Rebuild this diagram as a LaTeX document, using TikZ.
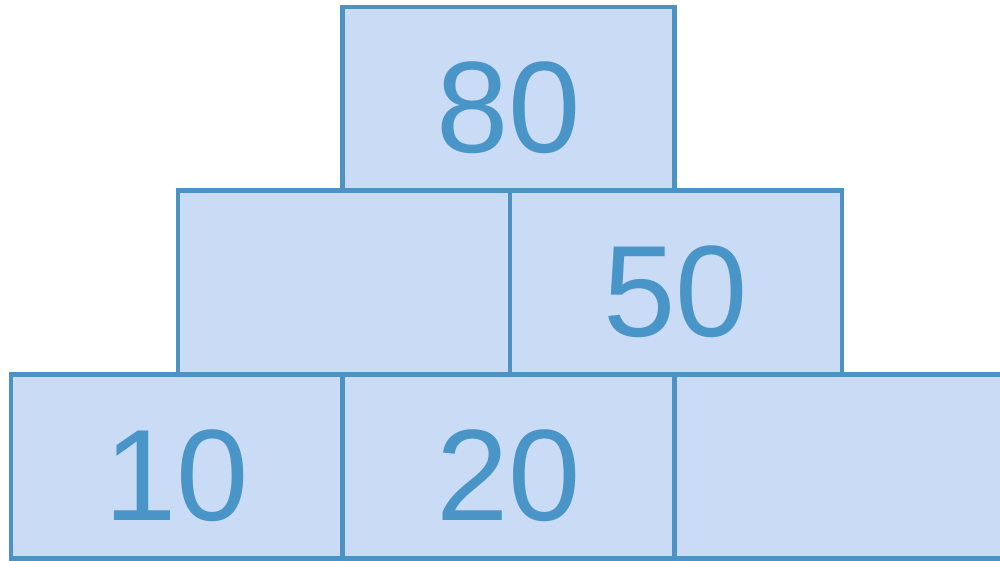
\documentclass[tikz,border=0pt]{standalone}
\usepackage{fontspec}
\setmainfont{Liberation Sans}
\usepackage{xcolor}
\definecolor{brickfill}{HTML}{C9DBF5}
\definecolor{brickline}{HTML}{4D92C4}
\definecolor{bricktext}{HTML}{4A95C8}

\begin{document}
\begin{tikzpicture}[
				every node/.style={font=\fontsize{37}{40}\selectfont},
				brick/.style={draw=brickline, line width=1.2pt, fill=brickfill, text=bricktext, minimum width=3.32cm, minimum height=1.84cm, inner sep=0pt, text height=1.07cm, text depth=0pt, anchor=center}
			]
			\useasboundingbox (0,0) rectangle (10,-5.6);
			\clip (0,0) rectangle (10,-5.6);

			% Top row
			\node[brick] (top) at (5.085,-0.99) {80};

			% Middle row
			\node[brick] (midleft) at (3.44,-2.825) {};
			\node[brick] (midright) at (6.76,-2.825) {50};

			% Bottom row
			\node[brick] (botleft) at (1.77,-4.665) {10};
			\node[brick] (botmid) at (5.085,-4.665) {20};
			\node[brick] (botright) at (8.41,-4.665) {};

		\end{tikzpicture}
\end{document}
